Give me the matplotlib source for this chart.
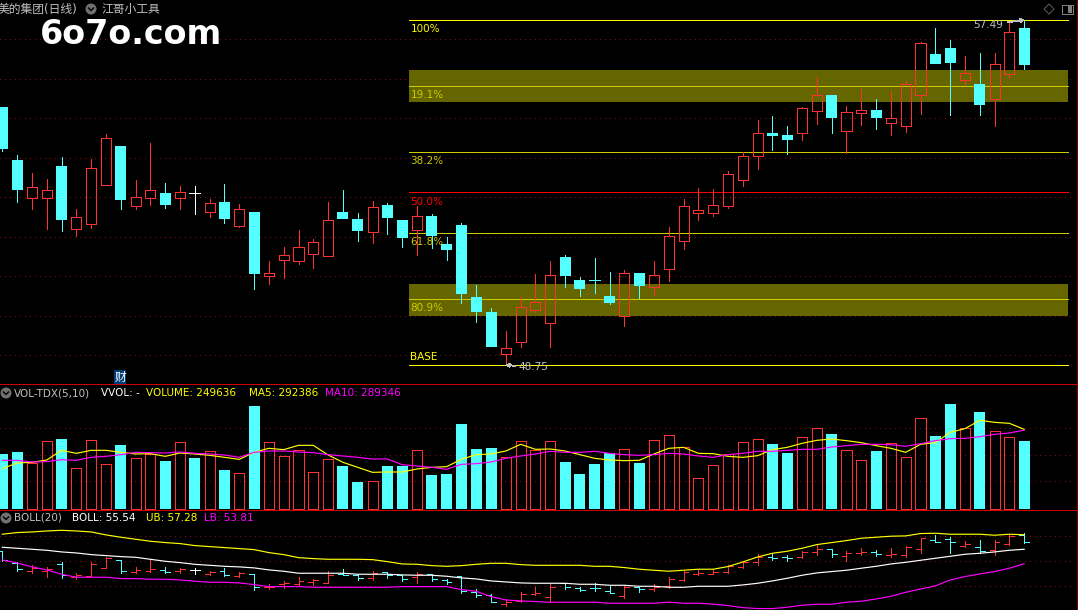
import numpy as np
import matplotlib
matplotlib.use('Agg')
import matplotlib.pyplot as plt
from matplotlib.patches import Circle, Rectangle, Polygon

plt.rcParams['font.family'] = ['DejaVu Sans', 'Noto Sans CJK SC']
plt.rcParams['lines.antialiased'] = False
plt.rcParams['patch.antialiased'] = False

# ---- daily bars, open/high/low/close
opens = [55.29, 53.94, 52.99, 52.99, 53.79, 52.20, 52.33, 53.32, 54.30, 52.79,
         52.99, 53.11, 52.99, 53.10, 52.63, 52.88, 52.28, 52.63, 51.01, 51.42,
         51.39, 51.57, 51.52, 52.63, 52.45, 52.13, 52.80, 52.42, 52.18, 52.52,
         51.81, 52.30, 50.47, 50.09, 49.04, 49.34, 50.15, 49.82, 51.49, 50.90,
         50.91, 50.50, 50.00, 51.08, 50.73, 51.19, 51.90, 52.61, 52.61, 52.77,
         53.43, 54.05, 54.63, 54.58, 54.63, 55.19, 55.59, 54.68, 55.14, 55.21,
         54.89, 54.81, 55.60, 56.63, 56.78, 55.98, 55.87, 55.50, 56.13, 57.29]
highs = [55.29, 54.07, 53.61, 53.46, 54.02, 52.70, 53.97, 54.60, 54.30, 53.44,
         54.37, 53.36, 53.28, 53.28, 52.95, 53.33, 52.83, 52.63, 51.38, 51.74,
         52.17, 51.94, 52.88, 53.18, 52.60, 52.90, 52.85, 52.42, 52.78, 52.57,
         51.99, 52.35, 50.78, 50.19, 49.61, 50.47, 51.06, 51.38, 51.54, 50.98,
         51.46, 51.11, 51.16, 51.08, 51.38, 52.25, 52.95, 53.23, 53.21, 53.66,
         54.15, 54.96, 55.06, 54.80, 55.29, 56.05, 55.59, 55.31, 55.74, 55.49,
         55.69, 55.94, 56.93, 57.29, 56.98, 56.58, 56.65, 56.65, 57.41, 57.49]
lows = [54.17, 52.88, 52.70, 52.19, 52.14, 52.02, 52.22, 53.32, 52.70, 52.70,
        52.80, 52.73, 52.70, 52.57, 52.50, 52.35, 52.25, 50.68, 50.80, 50.95,
        51.31, 51.21, 51.52, 52.45, 51.89, 51.84, 52.07, 51.74, 51.54, 51.71,
        51.41, 50.32, 49.84, 49.21, 48.75, 49.21, 50.09, 49.21, 50.73, 50.50,
        50.57, 50.30, 49.74, 50.45, 50.52, 50.88, 51.69, 52.42, 52.52, 52.73,
        53.28, 53.71, 54.20, 54.09, 54.45, 54.85, 54.63, 54.12, 54.83, 54.73,
        54.58, 54.65, 55.11, 56.37, 55.08, 55.87, 55.08, 54.80, 56.02, 56.25]
closes = [54.22, 53.18, 53.25, 53.18, 52.42, 52.49, 53.73, 54.49, 52.93, 53.00,
          53.18, 52.80, 53.12, 53.10, 52.85, 52.45, 52.69, 51.06, 51.07, 51.53,
          51.73, 51.86, 52.42, 52.45, 52.14, 52.74, 52.47, 51.97, 52.52, 52.02,
          51.66, 50.55, 50.09, 49.21, 49.17, 50.21, 50.34, 51.02, 51.00, 50.68,
          50.89, 50.32, 51.07, 50.75, 51.02, 52.01, 52.77, 52.67, 52.80, 53.58,
          54.04, 54.62, 54.55, 54.45, 55.25, 55.58, 55.01, 55.15, 55.20, 55.01,
          55.00, 55.86, 56.90, 56.37, 56.40, 56.14, 55.34, 56.37, 57.18, 56.35]

# ---- volume, in thousands
volumes = [202.0, 209.3, 167.7, 248.5, 257.0, 149.3, 252.1, 164.0, 235.0, 186.0,
           202.0, 176.3, 244.8, 187.3, 211.8, 143.2, 131.0, 378.2, 244.8, 193.4,
           215.4, 134.6, 182.4, 157.9, 99.1, 101.6, 157.9, 157.9, 215.4, 124.8,
           128.5, 312.1, 220.3, 224.0, 189.7, 248.5, 215.4, 248.5, 172.6, 128.5,
           165.2, 204.4, 219.1, 168.9, 252.1, 270.5, 226.4, 112.6, 160.3, 200.7,
           244.8, 255.8, 238.7, 205.6, 263.2, 296.2, 275.4, 215.4, 178.7, 213.0,
           241.1, 189.7, 332.9, 268.1, 385.6, 296.2, 356.2, 285.2, 263.2, 249.6]
vol_cyan = [0, 1, 4, 8, 11, 13, 15, 17, 23, 24, 26, 27, 29, 30, 31, 32, 33, 38,
            39, 40, 41, 43, 52, 53, 56, 59, 63, 64, 66, 69]
vol_ma5 = [148.1, 168.9, 171.4, 179.9, 215.4, 204.4, 215.4, 215.4, 208.1, 202.0,
           203.2, 193.4, 205.6, 202.0, 197.1, 189.7, 182.4, 208.1, 222.8, 217.9,
           233.8, 233.8, 198.3, 171.4, 153.0, 134.6, 135.9, 135.9, 146.9, 153.0,
           155.4, 182.4, 199.5, 202.0, 213.0, 237.5, 219.1, 220.3, 213.0, 199.5,
           186.0, 179.9, 177.5, 178.7, 202.0, 222.8, 226.4, 204.4, 203.2, 193.4,
           189.7, 195.8, 217.9, 226.4, 241.1, 252.1, 257.0, 250.9, 243.6, 232.6,
           222.8, 208.1, 237.5, 243.6, 281.5, 295.0, 325.6, 318.2, 314.6, 292.4]
vol_ma10 = [178.7, 178.7, 172.6, 173.8, 181.2, 178.7, 189.7, 193.4, 199.5, 208.1,
            206.9, 205.6, 209.3, 204.4, 202.0, 198.3, 189.7, 208.1, 213.0, 213.0,
            209.3, 206.9, 199.5, 194.6, 189.7, 183.6, 183.6, 162.8, 157.9, 153.0,
            145.7, 164.0, 166.5, 172.6, 186.0, 194.6, 202.0, 211.8, 208.1, 208.1,
            211.8, 204.4, 199.5, 197.1, 199.5, 204.4, 202.0, 194.6, 189.7, 199.5,
            204.4, 211.8, 211.8, 215.4, 219.1, 219.1, 227.7, 232.6, 237.5, 237.5,
            236.2, 230.1, 239.9, 250.9, 258.3, 259.5, 265.6, 274.2, 279.1, 289.3]

# ---- bollinger
boll_ub = [57.34, 57.54, 57.61, 57.73, 57.81, 57.73, 57.61, 57.26, 56.98, 56.74,
           56.50, 56.34, 56.22, 55.98, 55.86, 55.74, 55.62, 55.50, 55.14, 54.90,
           54.54, 54.42, 54.34, 54.34, 54.34, 54.30, 54.06, 53.78, 53.74, 53.58,
           53.50, 53.58, 53.74, 53.86, 53.86, 53.70, 53.62, 53.62, 53.62, 53.62,
           53.50, 53.50, 53.35, 53.15, 53.03, 52.91, 53.03, 53.15, 53.15, 53.47,
           54.02, 54.62, 55.06, 55.30, 55.66, 56.10, 56.34, 56.58, 56.86, 56.98,
           57.10, 57.14, 57.42, 57.46, 57.34, 57.34, 57.34, 57.22, 57.34, 57.28]
boll_mid = [55.78, 55.66, 55.54, 55.42, 55.22, 55.10, 54.90, 54.78, 54.66, 54.58,
            54.34, 54.10, 53.94, 53.74, 53.62, 53.50, 53.43, 53.31, 53.07, 52.91,
            52.67, 52.67, 52.67, 52.67, 52.55, 52.55, 52.55, 52.47, 52.43, 52.43,
            52.31, 52.11, 51.99, 51.75, 51.63, 51.51, 51.47, 51.47, 51.47, 51.35,
            51.35, 51.23, 51.23, 51.11, 51.11, 50.99, 50.99, 51.11, 51.11, 51.11,
            51.27, 51.47, 51.75, 52.07, 52.43, 52.71, 52.87, 53.03, 53.27, 53.50,
            53.78, 53.98, 54.22, 54.46, 54.70, 54.94, 55.06, 55.22, 55.42, 55.54]
boll_lb = [54.26, 53.90, 53.43, 53.07, 52.55, 52.19, 52.19, 52.19, 52.03, 52.03,
           51.95, 51.95, 51.87, 51.71, 51.59, 51.59, 51.51, 51.31, 51.07, 51.07,
           51.07, 50.99, 50.99, 50.99, 50.99, 50.99, 50.99, 51.07, 51.07, 51.07,
           51.07, 50.71, 50.51, 49.87, 49.47, 49.36, 49.28, 49.20, 49.20, 49.20,
           49.20, 49.08, 49.08, 49.08, 49.08, 49.20, 49.08, 49.08, 48.96, 48.80,
           48.56, 48.44, 48.44, 48.60, 48.84, 48.96, 48.96, 49.20, 49.32, 49.59,
           49.91, 50.39, 50.79, 51.15, 51.87, 52.27, 52.59, 52.87, 53.27, 53.81]

# ---- fibonacci levels
fib_prices = [57.49, 55.82, 54.15, 53.12, 52.09, 50.42, 48.75]
fib_labels = ['100%', '19.1%', '38.2%', '50.0%', '61.8%', '80.9%', 'BASE']
fib_colors = ['#ffff00', '#cccc00', '#cccc00', '#ff0000', '#cccc00', '#cccc00', '#ffff00']
bands = [(55.41, 56.22), (49.99, 50.80)]

W, H = 1078, 610
RED = '#ff3232'
CYAN = '#54ffff'
GRID = '#801010'
GREY = '#c0c0c0'
LW = 0.7
MA_LW = 0.85
n = len(closes)
xs = np.arange(n)
xlim = (-2.3/14.81, (W-2.3)/14.81)


def panel(top, bottom, ylim, grid):
    ax = fig.add_axes([0, 1-bottom/H, 1, (bottom-top)/H], facecolor='black')
    ax.set_xlim(xlim)
    ax.set_ylim(ylim)
    ax.axis('off')
    ax.hlines(grid, xlim[0], 72.2, color=GRID, lw=LW, ls=(0, (1, 5)), zorder=1)
    return ax


def candle_colour(i):
    if i == 13:
        return 'white'
    return RED if closes[i] > opens[i] else CYAN


fig = plt.figure(figsize=(W/100, H/100), dpi=100, facecolor='black')

# ---- price panel
ax = panel(0, 384, (48.27, 57.995), list(range(49, 58)))
x0, x1 = (409-2.3)/14.81, (1068-2.3)/14.81
for lo, hi in bands:
    ax.add_patch(Rectangle((x0, lo), x1-x0, hi-lo, color='#666600', lw=0, zorder=2))
ax.hlines(fib_prices, x0, x1, colors=fib_colors, lw=LW, zorder=3)
for i in range(n):
    c = candle_colour(i)
    top, bot = max(opens[i], closes[i]), min(opens[i], closes[i])
    ax.vlines(i, top, highs[i], color=c, lw=LW, zorder=4)
    ax.vlines(i, lows[i], bot, color=c, lw=LW, zorder=4)
    if top-bot <= 0.03:
        ax.hlines(top, i-0.37, i+0.37, color=c, lw=LW, zorder=5)
    elif c == CYAN:
        ax.bar(i, top-bot, bottom=bot, width=0.74, color=c, lw=0, zorder=5)
    else:
        ax.bar(i, top-bot, bottom=bot, width=0.68, facecolor='none', edgecolor=c, lw=LW, zorder=5)
for p, s, c in zip(fib_prices, fib_labels, fib_colors):
    if s == 'BASE':
        ax.annotate(s, (x0, p), xytext=(1, 2.5), textcoords='offset points', color=c,
                    fontsize=7.5, va='bottom', ha='left', zorder=6)
    else:
        ax.annotate(s, (x0, p), xytext=(1, -3), textcoords='offset points', color=c,
                    fontsize=7.5, va='top', ha='left', zorder=6)
ax.annotate('48.75', (34, 48.75), xytext=(9.4, -1.5), textcoords='offset points', color=GREY, fontsize=7.5,
            va='center', ha='left', zorder=6,
            arrowprops=dict(arrowstyle='->', color=GREY, lw=0.7, shrinkA=1, shrinkB=0, mutation_scale=5))
ax.annotate('57.49', (69, 57.49), xytext=(-15, -3.6), textcoords='offset points', color=GREY, fontsize=7.5,
            va='center', ha='right', zorder=6,
            arrowprops=dict(arrowstyle='->', color=GREY, lw=0.7, shrinkA=1, shrinkB=0, mutation_scale=5))

# ---- volume panel
ax2 = panel(385, 510, (-3.67, 455.3), [101.6, 197, 296])
for i in range(n):
    if i in vol_cyan:
        ax2.bar(i, volumes[i], width=0.74, color=CYAN, lw=0, zorder=3)
    else:
        ax2.bar(i, volumes[i], width=0.68, facecolor='none', edgecolor=RED, lw=LW, zorder=3)
ax2.plot(xs, vol_ma5, color='#ffff00', lw=MA_LW, antialiased=True, zorder=4)
ax2.plot(xs, vol_ma10, color='#ff00ff', lw=MA_LW, antialiased=True, zorder=4)

# ---- boll panel
ax3 = panel(511, 610, (48.27, 60.12), [51.10, 54.10, 57.10])
for i in range(n):
    c = candle_colour(i)
    ax3.vlines(i, lows[i], highs[i], color=c, lw=LW, zorder=3)
    ax3.hlines(opens[i], i-0.33, i, color=c, lw=LW, zorder=3)
    ax3.hlines(closes[i], i, i+0.33, color=c, lw=LW, zorder=3)
ax3.plot(xs, boll_ub, color='#ffff00', lw=MA_LW, antialiased=True, zorder=4)
ax3.plot(xs, boll_mid, color='white', lw=MA_LW, antialiased=True, zorder=4)
ax3.plot(xs, boll_lb, color='#ff00ff', lw=MA_LW, antialiased=True, zorder=4)

# ---- overlay in pixels, for headers and icons
top = fig.add_axes([0, 0, 1, 1], facecolor='none')
top.set_xlim(0, W)
top.set_ylim(H, 0)
top.axis('off')


def label(px, py, s, color, size=7.5, **kw):
    top.text(px, py, s, color=color, fontsize=size, va='center', ha='left', zorder=10, **kw)


def knob(px, py):
    top.add_patch(Circle((px, py), 5.5, color='#707070', lw=0, antialiased=True, zorder=9))
    top.plot([px-2.5, px, px+2.5], [py-1, py+1.5, py-1], color='black', lw=1, antialiased=True, zorder=10)


# panel separators
top.add_patch(Rectangle((0, 384), W, 1, color='#d00000', lw=0))
top.add_patch(Rectangle((0, 510), W, 1, color='#d00000', lw=0))
top.add_patch(Rectangle((1077, 0), 1, H, color='#800000', lw=0))

label(-2, 9, '美的集团(日线)', GREY, 8.5)
knob(91, 9)
label(101, 9, '江哥小工具', GREY, 8.5)
label(40, 34, '6o7o.com', 'white', 24, fontweight='bold')

top.add_patch(Polygon([(1049, 4), (1054, 9), (1049, 14), (1044, 9)], closed=True, facecolor='none',
                      edgecolor='#606060', lw=LW, antialiased=True))
top.add_patch(Rectangle((1062, 5), 11, 9, facecolor='none', edgecolor='#808080', lw=LW))
top.add_patch(Rectangle((1068, 6), 4, 7, color='#808080', lw=0))

top.add_patch(Rectangle((114, 370), 12, 14, color='#003c78', lw=0))
top.text(120, 377, '财', color='white', fontsize=8.5, va='center', ha='center', zorder=10)

knob(6, 393)
label(14, 393, 'VOL-TDX(5,10)', GREY)
label(101, 393, 'VVOL: -', 'white')
label(146, 393, 'VOLUME: 249636', '#ffff00')
label(249, 393, 'MA5: 292386', '#ffff00')
label(325, 393, 'MA10: 289346', '#ff00ff')
knob(6, 518)
label(14, 518, 'BOLL(20)', GREY)
label(72, 518, 'BOLL: 55.54', 'white')
label(146, 518, 'UB: 57.28', '#ffff00')
label(204, 518, 'LB: 53.81', '#ff00ff')

fig.savefig('out.png', dpi=100, facecolor='black')
